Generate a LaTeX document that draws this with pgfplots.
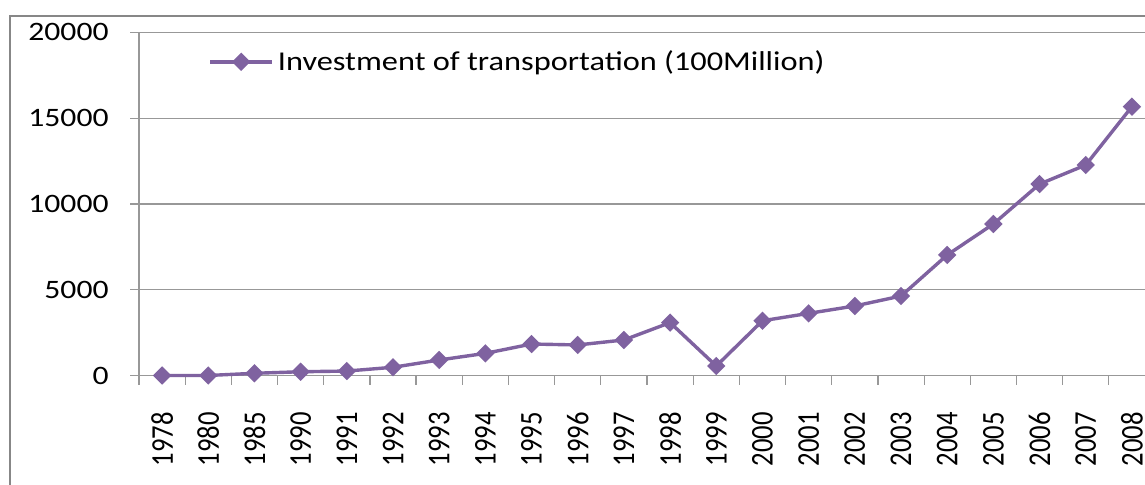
\documentclass[border=0pt]{standalone}
\usepackage{fontspec}
\setmainfont{Carlito}[FakeStretch=1.19]
\newfontfamily\xfont{Carlito}
\usepackage{pgfplots}
\pgfplotsset{compat=1.18}
\definecolor{inv}{HTML}{7F62A0}
\definecolor{gridc}{HTML}{989898}
\definecolor{framec}{HTML}{878787}
\begin{document}
\begin{tikzpicture}
\useasboundingbox (0,0) rectangle (572.5pt,242.5pt);
\clip (0,0) rectangle (572.5pt,242.5pt);
\draw[framec, line width=1pt] (5pt,-10pt) -- (5pt,234.5pt) -- (600pt,234.5pt);
\begin{axis}[
 at={(69.5pt,54.65pt)}, anchor=south west,
 scale only axis, width=508pt, height=171.7pt,
 xmin=-0.5, xmax=21.5, ymin=0, ymax=20000,
 scaled y ticks=false,
 axis x line*=bottom, axis y line*=left,
 axis line style={gridc, line width=0.6pt},
 ytick={0,5000,10000,15000,20000},
 yticklabels={0,5000,10000,15000,20000},
 ymajorgrids, grid style={gridc, line width=0.6pt},
 xtick={-0.5,0.5,...,21.5},
 x tick label as interval,
 xticklabels={1978,1980,1985,1990,1991,1992,1993,1994,1995,1996,1997,1998,1999,2000,2001,2002,2003,2004,2005,2006,2007,2008},
 tick align=outside, major tick length=4.5pt,
 tick style={gridc, line width=0.6pt},
 yticklabel style={font=\fontsize{13.3}{14}\selectfont, inner sep=0pt, anchor=east, xshift=-10.5pt},
 xticklabel style={font=\xfont\fontsize{13.3}{14}\selectfont, yshift=-13.5pt, rotate=90, anchor=east, yscale=1.19, inner sep=0pt},
 legend style={at={(0.068,0.914)}, anchor=west, draw=none, fill=none, inner sep=0pt, font=\fontsize{13.6}{14}\selectfont},
 legend image code/.code={\draw[mark repeat=2,mark phase=2,#1] plot coordinates {(0pt,0pt) (15.5pt,0pt) (31pt,0pt)};},
 clip=false,
]
\addplot[inv, line width=1.7pt, mark=square*, mark size=2.4pt, mark options={rotate=45, solid}] coordinates {
(0,10) (1,12) (2,140) (3,230) (4,270) (5,490) (6,915) (7,1300) (8,1845) (9,1790) (10,2080)
(11,3090) (12,565) (13,3200) (14,3630) (15,4060) (16,4640) (17,7030) (18,8835) (19,11160) (20,12270) (21,15670)
};
\addlegendentry{Investment of transportation (100Million)}
\end{axis}
\end{tikzpicture}
\end{document}
